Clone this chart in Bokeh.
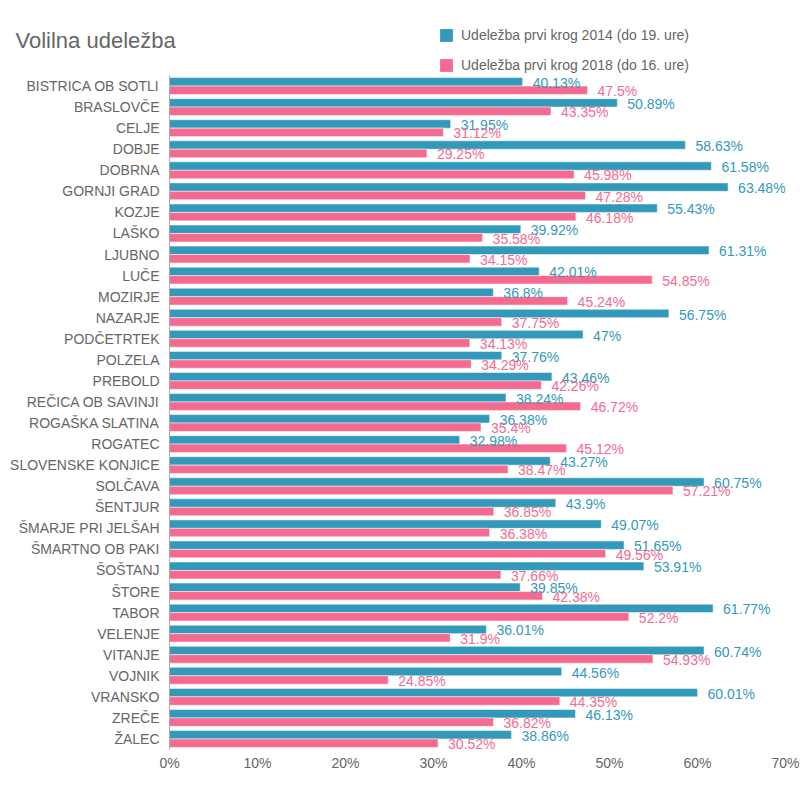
from bokeh.plotting import figure
from bokeh.layouts import column
from bokeh.models import (FactorRange, Range1d, FixedTicker, PrintfTickFormatter,
                          Legend, LegendItem, ColumnDataSource, Label)
from bokeh.transform import dodge
from bokeh.core.properties import value
from bokeh.embed import file_html
from bokeh.resources import INLINE

categories = [
    "BISTRICA OB SOTLI", "BRASLOVČE", "CELJE", "DOBJE", "DOBRNA", "GORNJI GRAD",
    "KOZJE", "LAŠKO", "LJUBNO", "LUČE", "MOZIRJE", "NAZARJE", "PODČETRTEK",
    "POLZELA", "PREBOLD", "REČICA OB SAVINJI", "ROGAŠKA SLATINA", "ROGATEC",
    "SLOVENSKE KONJICE", "SOLČAVA", "ŠENTJUR", "ŠMARJE PRI JELŠAH",
    "ŠMARTNO OB PAKI", "ŠOŠTANJ", "ŠTORE", "TABOR", "VELENJE", "VITANJE",
    "VOJNIK", "VRANSKO", "ZREČE", "ŽALEC",
]
turnout_2014 = [
    40.13, 50.89, 31.95, 58.63, 61.58, 63.48, 55.43, 39.92, 61.31, 42.01, 36.8,
    56.75, 47, 37.76, 43.46, 38.24, 36.38, 32.98, 43.27, 60.75, 43.9, 49.07,
    51.65, 53.91, 39.85, 61.77, 36.01, 60.74, 44.56, 60.01, 46.13, 38.86,
]
turnout_2018 = [
    47.5, 43.35, 31.12, 29.25, 45.98, 47.28, 46.18, 35.58, 34.15, 54.85, 45.24,
    37.75, 34.13, 34.29, 42.26, 46.72, 35.4, 45.12, 38.47, 57.21, 36.85, 36.38,
    49.56, 37.66, 42.38, 52.2, 31.9, 54.93, 24.85, 44.35, 36.82, 30.52,
]
series_names = ["Udeležba prvi krog 2014 (do 19. ure)",
                "Udeležba prvi krog 2018 (do 16. ure)"]
x_ticks = [0, 10, 20, 30, 40, 50, 60, 70]
title_text = "Volilna udeležba"

BLUE = "#3399bb"
PINK = "#f56a8f"
FONT = "Liberation Sans"
GREY = "#666"

src = ColumnDataSource(dict(
    cat=categories,
    v14=turnout_2014,
    v18=turnout_2018,
    l14=[f"{v:g}%" for v in turnout_2014],
    l18=[f"{v:g}%" for v in turnout_2018],
))

# ---------- header: title + legend ----------
h = figure(width=800, height=75, x_range=Range1d(0, 800), y_range=Range1d(75, 0),
           x_axis_type=None, y_axis_type=None, output_backend="svg",
           toolbar_location=None, min_border=0)
h.frame_align = False
h.outline_line_color = None
h.grid.visible = False
nan = float("nan")
h14 = h.hbar(y=[nan], left=[nan], right=[nan], height=1, fill_color=BLUE, line_color=None)
h18 = h.hbar(y=[nan], left=[nan], right=[nan], height=1, fill_color=PINK, line_color=None)
legend = Legend(items=[LegendItem(label=series_names[0], renderers=[h14]),
                       LegendItem(label=series_names[1], renderers=[h18])],
                location=(438, 0), orientation="vertical",
                label_text_font_size="14px", label_text_color=GREY,
                label_text_font=FONT,
                glyph_width=16, glyph_height=16, label_standoff=7,
                label_height=20, spacing=10, padding=0, margin=0,
                border_line_alpha=0, background_fill_alpha=0)
h.add_layout(legend, "center")
h.add_layout(Label(x=15, y=40, text=title_text, text_baseline="middle",
                   text_align="left", text_font_size="22px", text_color=GREY,
                   text_font=FONT))

# ---------- main chart ----------
p = figure(width=800, height=725,
           y_range=FactorRange(factors=list(reversed(categories))),
           x_range=Range1d(0, 70),
           output_backend="svg", toolbar_location=None,
           min_border_left=169, min_border_right=15,
           min_border_top=0, min_border_bottom=51)
p.frame_align = False

p.hbar(y=dodge("cat", 0.2, range=p.y_range), left=0, right="v14", height=0.4,
       source=src, fill_color=BLUE, line_color="white", line_width=1, line_alpha=0.5)
p.hbar(y=dodge("cat", -0.2, range=p.y_range), left=0, right="v18", height=0.4,
       source=src, fill_color=PINK, line_color="white", line_width=1, line_alpha=0.5)

p.text(x="v14", y=dodge("cat", 0.2, range=p.y_range), text="l14", source=src,
       x_offset=10, y_offset=1, text_baseline="middle", text_align="left",
       text_font_size="14px", text_color=BLUE, text_font=value(FONT))
p.text(x="v18", y=dodge("cat", -0.2, range=p.y_range), text="l18", source=src,
       x_offset=10, y_offset=1, text_baseline="middle", text_align="left",
       text_font_size="14px", text_color=PINK, text_font=value(FONT))

p.xgrid.visible = False
p.ygrid.visible = False
p.outline_line_color = None

p.xaxis.ticker = FixedTicker(ticks=x_ticks)
p.xaxis.formatter = PrintfTickFormatter(format="%d%%")
p.xaxis.axis_line_color = None
p.xaxis.major_tick_line_color = None
p.xaxis.minor_tick_line_color = None
p.xaxis.major_tick_out = 0
p.xaxis.minor_tick_out = 0
p.xaxis.major_label_standoff = 5
p.xaxis.major_label_text_font_size = "14px"
p.xaxis.major_label_text_color = GREY
p.xaxis.major_label_text_font = FONT

p.yaxis.axis_line_color = "#aaa"
p.yaxis.major_tick_line_color = None
p.yaxis.minor_tick_line_color = None
p.yaxis.major_tick_out = 0
p.yaxis.minor_tick_out = 0
p.yaxis.major_label_standoff = 10
p.yaxis.major_label_text_font_size = "14px"
p.yaxis.major_label_text_color = GREY
p.yaxis.major_label_text_font = FONT

layout = column(h, p, spacing=0)
open("out.html", "w").write(file_html(layout, INLINE))
